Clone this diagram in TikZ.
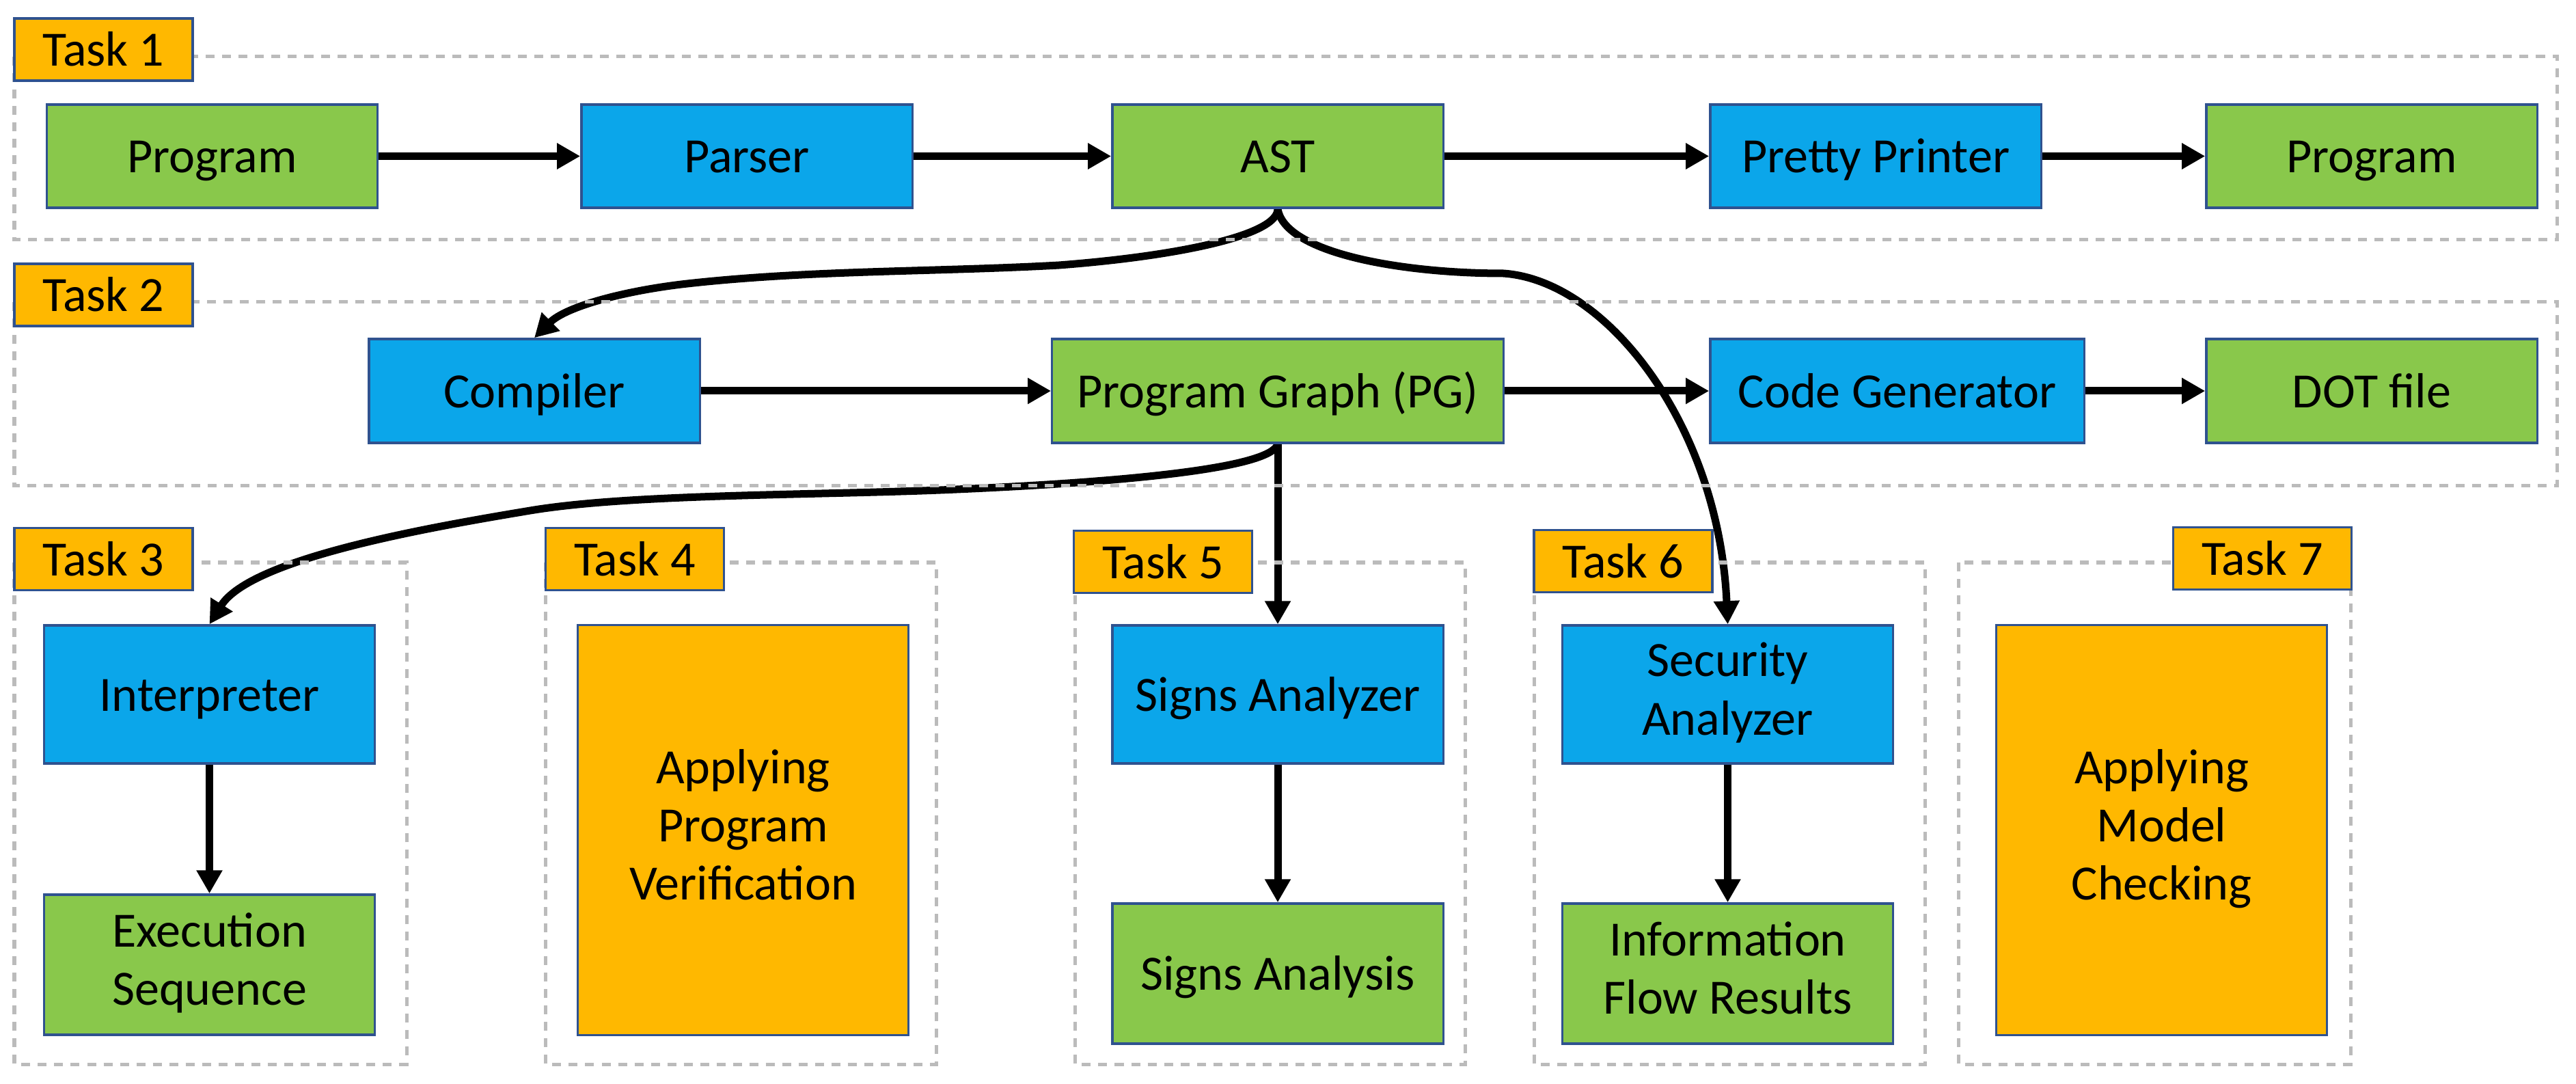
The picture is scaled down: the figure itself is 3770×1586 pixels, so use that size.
\documentclass[tikz,border=0pt]{standalone}
\usepackage{fontspec}
\setmainfont{Carlito}
\usetikzlibrary{arrows.meta}
\pgfdeclarelayer{bg}
\pgfdeclarelayer{mid}
\pgfsetlayers{bg,mid,main}
\definecolor{gfill}{HTML}{89C84B}
\definecolor{bfill}{HTML}{0BA6EA}
\definecolor{ofill}{HTML}{FFB800}
\definecolor{bord}{HTML}{2F528F}
\definecolor{fgray}{HTML}{BBBBBB}
\tikzset{
  nbox/.style={draw=bord, line width=0.033cm, inner sep=0pt, align=center,
    font=\fontsize{20.5}{24.2}\selectfont, text=black,
    execute at begin node={\rule{0pt}{18.4pt}},
    execute at end node={\rule[-4.7pt]{0pt}{4.7pt}}},
  gbox/.style={nbox, fill=gfill},
  bbox/.style={nbox, fill=bfill},
  obox/.style={nbox, fill=ofill},
  tasklabel/.style={nbox, fill=ofill, minimum width=2.61cm, minimum height=0.91cm},
  taskframe/.style={draw=fgray, line width=0.05cm, dash pattern=on 0.13cm off 0.11cm},
  conn/.style={line width=0.11cm, -{Triangle[length=0.34cm,width=0.36cm]}},
  roww/.style={minimum width=4.84cm},
  row1/.style={minimum height=1.51cm},
  row2/.style={minimum height=1.52cm},
  row3/.style={minimum height=2.02cm},
  row3b/.style={minimum height=2.05cm},
}
\begin{document}
\begin{tikzpicture}[x=0.01cm, y=-0.01cm]
\begin{pgfonlayer}{bg}
  \fill[white] (0,0) rectangle (3770,1586);
\end{pgfonlayer}
\useasboundingbox (0,0) rectangle (3770,1586);

% Row 1
\node[gbox, roww, row1] (prog1) at (310.5,228.5) {Program};
\node[bbox, roww, row1] (parser) at (1093,228.5) {Parser};
\node[gbox, roww, row1] (ast) at (1870,228.5) {AST};
\node[bbox, roww, row1] (pp) at (2745,228.5) {Pretty Printer};
\node[gbox, roww, row1] (prog2) at (3471,228.5) {Program};

% Row 2
\node[bbox, roww, row2] (comp) at (782,572) {Compiler};
\node[gbox, row2, minimum width=6.60cm] (pg) at (1870,572) {Program Graph (PG)};
\node[bbox, row2, minimum width=5.47cm] (cg) at (2776.5,572) {Code Generator};
\node[gbox, roww, row2] (dot) at (3471,572) {DOT file};

% Row 3
\node[bbox, roww, row3] (interp) at (306.5,1016) {Interpreter};
\node[gbox, roww, row3b] (exec) at (306.5,1411.5) {Execution\\Sequence};
\node[obox, roww, minimum height=5.99cm] (verif) at (1087.5,1214.5) {Applying\\Program\\Verification};
\node[bbox, roww, row3] (sanalyzer) at (1870,1016) {Signs Analyzer};
\node[gbox, roww, row3b] (sanalysis) at (1870,1424.5) {Signs Analysis};
\node[bbox, roww, row3] (secan) at (2528.5,1016) {Security\\Analyzer};
\node[gbox, roww, row3b] (iflow) at (2528.5,1424.5) {Information\\Flow Results};
\node[obox, roww, minimum height=5.99cm] (model) at (3163.5,1214.5) {Applying\\Model\\Checking};

% waypoints
\coordinate (wa1) at (1550,388);
\coordinate (wa2) at (1006,415);
\coordinate (wb) at (2200,400);
\coordinate (wc1) at (1400,716);
\coordinate (wc2) at (776,747);

\begin{pgfonlayer}{bg}
  \draw[conn] (prog1) -- (parser);
  \draw[conn] (parser) -- (ast);
  \draw[conn] (ast) -- (pp);
  \draw[conn] (pp) -- (prog2);
  \draw[conn] (comp) -- (pg);
  \draw[conn] (pg) -- (cg);
  \draw[conn] (cg) -- (dot);
  \draw[conn] (pg.south) -- (sanalyzer.north);
  \draw[conn] (interp) -- (exec);
  \draw[conn] (sanalyzer) -- (sanalysis);
  \draw[conn] (secan) -- (iflow);
  \draw[conn] (ast.south) .. controls (1870,345) and (1720,375) .. (wa1)
     .. controls (1370,398) and (1186,395) .. (wa2)
     .. controls (916,425) and (829,448) .. (comp.north);
  \draw[conn] (ast.south) .. controls (1880,370) and (2050,400) .. (wb)
     .. controls (2350,410) and (2515,620) .. (secan.north);
  \draw[conn] (pg.south) .. controls (1860,685) and (1650,705) .. (wc1)
     .. controls (1200,725) and (926,722) .. (wc2)
     .. controls (626,772) and (367,817) .. (interp.north);
\end{pgfonlayer}

\begin{pgfonlayer}{mid}
  \draw[taskframe] (21,83) rectangle (3742,351);
  \draw[taskframe] (21,442) rectangle (3742,711);
  \draw[taskframe] (21,823) rectangle (595,1557);
  \draw[taskframe] (798,823) rectangle (1370,1557);
  \draw[taskframe] (1573,823) rectangle (2144,1557);
  \draw[taskframe] (2245,823) rectangle (2817,1557);
  \draw[taskframe] (2866,823) rectangle (3440,1557);
\end{pgfonlayer}

% Task labels
\node[tasklabel] (t1) at (151.5,72.5) {Task 1};
\node[tasklabel] (t2) at (151.5,431.5) {Task 2};
\node[tasklabel] (t3) at (151.5,818) {Task 3};
\node[tasklabel] (t4) at (929,818) {Task 4};
\node[tasklabel] (t5) at (1702,822) {Task 5};
\node[tasklabel] (t6) at (2375.5,821) {Task 6};
\node[tasklabel] (t7) at (3311,817) {Task 7};
\end{tikzpicture}
\end{document}
